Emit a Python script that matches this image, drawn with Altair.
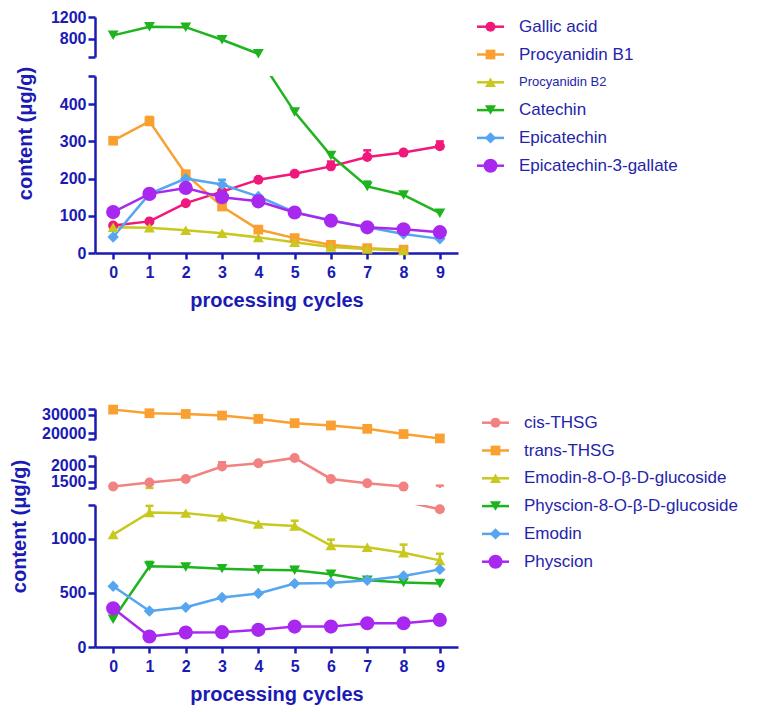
import altair as alt
import pandas as pd

cycles = [0, 1, 2, 3, 4, 5, 6, 7, 8, 9]

# ---------------- top panel data ----------------
top_series = ["Gallic acid", "Procyanidin B1", "Procyanidin B2", "Catechin",
              "Epicatechin", "Epicatechin-3-gallate"]
gallic_acid = [74, 85, 134, 165, 197, 213, 233, 258, 270, 287]
procyanidin_b1 = [302, 354, 212, 125, 63, 40, 22, 13, 9, None]
procyanidin_b2 = [69, 68, 61, 53, 42, 29, 16, 11, 7, None]
catechin = [865, 1020, 1015, 785, 528, 379, 262, 179, 156, 107]
epicatechin = [43, 159, 200, 184, 152, 110, 88, 69, 51, 38]
epicatechin_3_gallate = [110, 159, 175, 150, 139, 109, 87, 69, 64, 56]

gallic_acid_err = [0, 0, 0, 0, 0, 0, 13, 18, 0, 13]
procyanidin_b1_err = [0, 12, 0, 0, 0, 0, 0, 0, 0, 0]
procyanidin_b2_err = [0, 0, 0, 0, 0, 0, 0, 0, 0, 0]
catechin_err = [0, 0, 0, 0, 0, 0, 0, 13, 0, 0]
epicatechin_err = [0, 0, 0, 13, 0, 0, 0, 0, 0, 0]
epicatechin_3_gallate_err = [0, 0, 0, 0, 0, 0, 0, 0, 0, 0]

# ---------------- bottom panel data ----------------
bottom_series = ["cis-THSG", "trans-THSG", "Emodin-8-O-β-D-glucoside",
                 "Physcion-8-O-β-D-glucoside", "Emodin", "Physcion"]
cis_thsg = [1345, 1470, 1583, 1970, 2073, 2240, 1583, 1448, 1344, 1270]
trans_thsg = [32670, 30700, 30320, 29470, 27650, 25350, 24100, 22300, 19470, 17100]
emodin_glc = [1037, 1241, 1235, 1201, 1134, 1116, 936, 920, 869, 799]
physcion_glc = [256, 745, 737, 723, 713, 707, 671, 616, 595, 585]
emodin = [561, 332, 366, 457, 494, 585, 591, 616, 655, 716]
physcion = [357, 97, 134, 137, 158, 188, 188, 219, 219, 250]

cis_thsg_err = [0, 0, 0, 135, 0, 0, 0, 0, 0, 105]
trans_thsg_err = [0, 0, 0, 0, 0, 0, 0, 0, 0, 0]
emodin_glc_err = [0, 61, 0, 0, 0, 49, 55, 0, 76, 61]
physcion_glc_err = [0, 40, 0, 0, 0, 30, 0, 0, 0, 0]
emodin_err = [0, 0, 0, 0, 0, 0, 0, 0, 0, 0]
physcion_err = [0, 0, 0, 0, 0, 0, 0, 0, 0, 0]

# ---------------- styles ----------------
top_colors = ["#F0187A", "#F9A030", "#C8C81E", "#1EB41E", "#55A5F0", "#A828F0"]
bottom_colors = ["#F28282", "#F9A030", "#C8C81E", "#1EB41E", "#55A5F0", "#A828F0"]
shapes = ["circle", "square", "triangle-up", "triangle-down", "diamond", "circle"]
sizes = [100, 95, 120, 120, 130, 200]
top_legend_font = [17, 17, 13, 17, 17, 17]
bottom_legend_font = [17, 17, 17, 17, 17, 17]

ALL_NAMES = top_series + bottom_series
COLOR_SCALE = alt.Scale(domain=ALL_NAMES, range=top_colors + bottom_colors)

AXIS_BLUE = "#1a1ab4"
LEGEND_BLUE = "#2424aa"
FONT = "Liberation Sans"


def long_df(names, values, errs):
    rows = []
    for name, vals, ers in zip(names, values, errs):
        for c, v, e in zip(cycles, vals, ers):
            if v is None:
                continue
            rows.append({"series": name, "cycle": c, "value": v, "err": e, "top": v + e})
    return pd.DataFrame(rows)


top_df = long_df(top_series,
                 [gallic_acid, procyanidin_b1, procyanidin_b2, catechin, epicatechin,
                  epicatechin_3_gallate],
                 [gallic_acid_err, procyanidin_b1_err, procyanidin_b2_err, catechin_err,
                  epicatechin_err, epicatechin_3_gallate_err])
bottom_df = long_df(bottom_series,
                    [cis_thsg, trans_thsg, emodin_glc, physcion_glc, emodin, physcion],
                    [cis_thsg_err, trans_thsg_err, emodin_glc_err, physcion_glc_err,
                     emodin_err, physcion_err])

color = alt.Color("series:N", scale=COLOR_SCALE, legend=None)


def point_layers(base, names, x, y):
    out = []
    for name, shp, sz in zip(names, shapes, sizes):
        out.append(
            base.transform_filter(alt.datum.series == name).mark_point(
                filled=True, opacity=1, shape=shp, size=sz
            ).encode(x=x, y=y, color=color)
        )
    return out


def segment(df, names, lo, hi, height, labeled, show_x=False, ytitle=False, tx=0, ty=0):
    in_range = "datum.value >= %s && datum.value <= %s" % (lo, hi)
    xscale = alt.Scale(domain=[-0.5, 9.5], nice=False, zero=False)
    if show_x:
        xaxis = alt.Axis(values=cycles, format="d", title="processing cycles",
                         tickSize=6, labelPadding=5, titlePadding=10, labelFlush=False)
    else:
        xaxis = alt.Axis(values=cycles, labels=False, ticks=False, domain=False, title=None)
    x = alt.X("cycle:Q", scale=xscale, axis=xaxis)
    ticks = sorted(set(labeled + [lo, hi]))
    label_expr = "indexof(%s, datum.value) >= 0 ? datum.label : ''" % str(labeled)
    if ytitle:
        yaxis = alt.Axis(values=ticks, labelExpr=label_expr, format="d", tickSize=7,
                         labelPadding=2, title="content (μg/g)", titleX=tx, titleY=ty,
                         titleAngle=270, titleAlign="center", titleBaseline="middle")
    else:
        yaxis = alt.Axis(values=ticks, labelExpr=label_expr, format="d", tickSize=7,
                         labelPadding=2, title=None)
    yscale = alt.Scale(domain=[lo, hi], nice=False, zero=False)
    y = alt.Y("value:Q", scale=yscale, axis=yaxis)
    ytop = alt.Y("top:Q", scale=yscale, axis=yaxis)

    base = alt.Chart(df)
    line_base = base if show_x else base.transform_filter(in_range)
    line = line_base.mark_line(clip=True, strokeWidth=2.5).encode(x=x, y=y, color=color)
    bars = base.transform_filter("datum.err > 0").mark_rule(clip=True, strokeWidth=2.5).encode(
        x=x, y=y, y2="top:Q", color=color)
    caps = base.transform_filter(
        "datum.err > 0 && datum.top >= %s && datum.top <= %s" % (lo, hi)
    ).mark_point(shape="M-1,0L1,0", filled=False, strokeWidth=2.5, size=64, opacity=1).encode(
        x=x, y=ytop, color=color)
    pts = point_layers(base.transform_filter(in_range), names, x, y)
    return alt.layer(line, bars, caps, *pts).properties(width=363, height=height)


def legend_chart(names, fonts, height, y0, step, x0):
    df = pd.DataFrame({"series": names, "idx": list(range(len(names))), "fs": fonts})
    yscale = alt.Scale(domain=[-y0 / step, (height - y0) / step], nice=False, zero=False,
                       reverse=True)
    y = alt.Y("idx:Q", scale=yscale, axis=None)
    base = alt.Chart(df)
    rule = base.mark_rule(strokeWidth=2.5).encode(x=alt.value(x0), x2=alt.value(x0 + 27),
                                                 y=y, color=color)
    layers = [rule] + point_layers(base, names, alt.value(x0 + 13.5), y)
    for fs in sorted(set(fonts)):
        layers.append(
            base.transform_filter("datum.fs == %s" % fs).mark_text(
                align="left", baseline="middle", font=FONT, color=LEGEND_BLUE, fontSize=fs
            ).encode(x=alt.value(x0 + 42), y=y, text="series:N")
        )
    return alt.layer(*layers).properties(width=260, height=height)


top_a = segment(top_df, top_series, 470, 1200, 40, [800, 1200])
top_b = segment(top_df, top_series, 0, 476, 177, [0, 100, 200, 300, 400],
                show_x=True, ytitle=True, tx=-70, ty=57)
top_panel = alt.vconcat(top_a, top_b, spacing=19, bounds="flush")
top_leg = legend_chart(top_series, top_legend_font, 200, 9.7, 27.8, 7)
top_row = alt.hconcat(top_panel, top_leg, spacing=10)

bot_a = segment(bottom_df, bottom_series, 16800, 33000, 30, [20000, 30000])
bot_b = segment(bottom_df, bottom_series, 1300, 2300, 32, [1500, 2000])
bot_c = segment(bottom_df, bottom_series, 0, 1310, 142, [0, 500, 1000],
                show_x=True, ytitle=True, tx=-76, ty=21)
bottom_panel = alt.vconcat(bot_a, bot_b, bot_c, spacing=17, bounds="flush")
bot_leg = legend_chart(bottom_series, bottom_legend_font, 200, 13.7, 27.8, 12)
bottom_row = alt.hconcat(bottom_panel, bot_leg, spacing=10)

chart = alt.vconcat(top_row, bottom_row, spacing=93).properties(
    padding={"left": 0, "top": 0, "right": 0, "bottom": 0},
    background="white",
).configure_view(stroke="transparent").configure_axis(
    grid=False,
    domainColor=AXIS_BLUE, domainWidth=2.5,
    tickColor=AXIS_BLUE, tickWidth=2.5,
    labelColor=AXIS_BLUE, labelFont=FONT, labelFontSize=16, labelFontWeight="bold",
    titleColor=AXIS_BLUE, titleFont=FONT, titleFontSize=20, titleFontWeight="bold",
)

chart.save("out.html", embed_options={"renderer": "svg", "actions": False})
